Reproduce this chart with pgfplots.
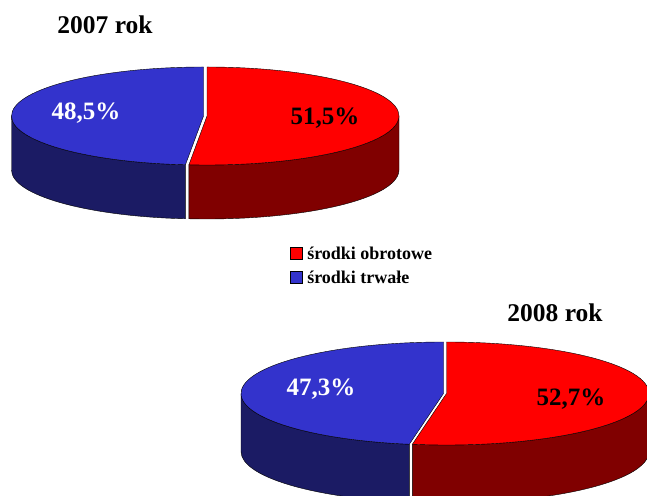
\documentclass[border=0pt]{standalone}
\usepackage{fontspec}
\setmainfont{Liberation Serif}
\usepackage{pgfplots}
\pgfplotsset{compat=1.18}
\usepackage{pgfplotstable}

\pgfplotstableread{
year obrotowe trwale
2007 51.5 48.5
2008 52.7 47.3
}\piedata

\definecolor{redtop}{RGB}{255,0,0}
\definecolor{redside}{RGB}{128,0,0}
\definecolor{bluetop}{RGB}{51,51,204}
\definecolor{blueside}{RGB}{27,27,100}

% #1 cx, #2 cy, #3 rx, #4 ry, #5 depth, #6 red value, #7 red shift, #8 blue shift
\newcommand{\threedpie}[8]{%
  % blue side
  \filldraw[fill=blueside, draw=black, line width=0.4pt]
    (axis cs:{#1+#8-#3},{#2}) arc[start angle=-180, end angle={90-3.6*#6}, x radius=#3pt, y radius=#4pt]
    -- ++(0pt,-#5pt) arc[start angle={90-3.6*#6}, end angle=-180, x radius=#3pt, y radius=#4pt] -- cycle;
  % red side
  \filldraw[fill=redside, draw=black, line width=0.4pt]
    (axis cs:{#1+#7+#3*cos(90-3.6*#6)},{#2+#4*sin(90-3.6*#6)}) arc[start angle={90-3.6*#6}, end angle=0, x radius=#3pt, y radius=#4pt]
    -- ++(0pt,-#5pt) arc[start angle=0, end angle={90-3.6*#6}, x radius=#3pt, y radius=#4pt] -- cycle;
  % blue top
  \filldraw[fill=bluetop, draw=black, line width=0.4pt]
    (axis cs:{#1+#8},{#2}) -- (axis cs:{#1+#8+#3*cos(90-3.6*#6)},{#2+#4*sin(90-3.6*#6)})
    arc[start angle={90-3.6*#6}, end angle=-270, x radius=#3pt, y radius=#4pt] -- cycle;
  % red top
  \filldraw[fill=redtop, draw=black, line width=0.4pt]
    (axis cs:{#1+#7},{#2}) -- (axis cs:{#1+#7},{#2+#4})
    arc[start angle=90, end angle={90-3.6*#6}, x radius=#3pt, y radius=#4pt] -- cycle;
}

\pgfplotstablegetelem{0}{obrotowe}\of\piedata \let\redA\pgfplotsretval
\pgfplotstablegetelem{1}{obrotowe}\of\piedata \let\redB\pgfplotsretval

\begin{document}
\begin{tikzpicture}
\useasboundingbox (0,0) rectangle (647pt,495pt);
\begin{axis}[
  at={(0,0)}, anchor=south west,
  scale only axis, width=647pt, height=495pt,
  xmin=0, xmax=647, ymin=0, ymax=495,
  hide axis, clip=true,
  legend style={at={(axis cs:290,250)}, anchor=north west, draw=none, fill=none,
    font=\bfseries\fontsize{18}{21}\selectfont, inner sep=0pt, row sep=7pt,
    nodes={inner sep=1.5pt}},
  legend cell align=left,
  legend image code/.code={\draw[#1] (0pt,-6pt) rectangle (12pt,6pt); \path (15pt,0pt);},
]
\addlegendimage{fill=redtop, draw=black, line width=0.6pt}
\addlegendentry{środki obrotowe}
\addlegendimage{fill=bluetop, draw=black, line width=0.6pt}
\addlegendentry{środki trwałe}

\threedpie{204.5}{379}{192}{49}{54}{\redA}{2.5}{-1}
\threedpie{445}{101.5}{202.5}{51.5}{58}{\redB}{1.5}{-1.5}

\node[font=\bfseries\fontsize{25.5}{30}\selectfont] at (axis cs:105,470) {2007 rok};
\node[font=\bfseries\fontsize{25.5}{30}\selectfont] at (axis cs:555,182) {2008 rok};
\node[font=\bfseries\fontsize{25}{30}\selectfont, white] at (axis cs:86,382) {48,5\%};
\node[font=\bfseries\fontsize{25}{30}\selectfont, black] at (axis cs:325,377) {51,5\%};
\node[font=\bfseries\fontsize{25}{30}\selectfont, white] at (axis cs:321,106) {47,3\%};
\node[font=\bfseries\fontsize{25}{30}\selectfont, black] at (axis cs:571,96) {52,7\%};
\end{axis}
\end{tikzpicture}
\end{document}
